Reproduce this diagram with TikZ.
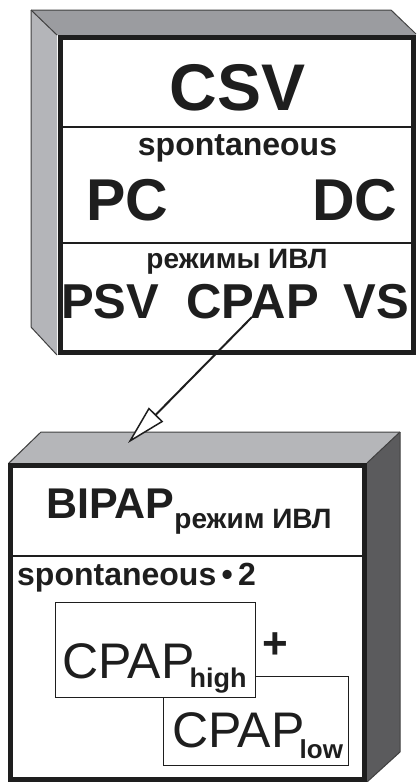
\documentclass[tikz,border=0pt]{standalone}
\usepackage{fontspec}
\setmainfont{Liberation Sans}
\usetikzlibrary{arrows.meta}
\definecolor{lightside}{RGB}{180,181,185}
\definecolor{midtop}{RGB}{155,156,160}
\definecolor{paletop}{RGB}{181,182,185}
\definecolor{darkside}{RGB}{91,91,93}
\definecolor{ink}{RGB}{30,30,30}
\newcommand{\fsz}[1]{\fontsize{#1}{#1}\selectfont}
\begin{document}
\begin{tikzpicture}[x=1pt,y=-1pt,
  face/.style={draw=ink!85, line width=1pt, line join=miter},
  front/.style={draw=ink, line width=5pt, fill=white, rectangle, inner sep=0pt, outer sep=0pt},
  thinbox/.style={draw=ink, line width=1pt, fill=white, rectangle, inner sep=0pt},
  divider/.style={draw=ink, line width=2pt},
  txt/.style={inner sep=0pt, text=ink}]

\useasboundingbox (0,0) rectangle (416,782);

% ---------- upper box (CSV) ----------
\fill[lightside] (31,10) -- (57,35) -- (57,355) -- (31,327) -- cycle;
\draw[face] (57,355) -- (31,327) -- (31,10);
\fill[midtop] (31,10) -- (391,10) -- (416,35) -- (57,35) -- cycle;
\draw[face] (31,10) -- (391,10) -- (416,34);
\draw[face] (31,10) -- (57,35);
\node[front, minimum width=353.5pt, minimum height=315pt] (csvbox) at (236.75,195) {};
\draw[divider] (60,127) -- (413.5,127);
\draw[divider] (60,243) -- (413.5,243);

\node[txt, anchor=base, font=\fsz{66}\bfseries] (csv) at (237.5,110) {CSV};
\node[txt, anchor=base, font=\fsz{32}\bfseries] (spon1) at (237.5,155) {spontaneous};
\node[txt, anchor=base west, font=\fsz{59}\bfseries] (pc) at (86,220) {PC};
\node[txt, anchor=base east, font=\fsz{59}\bfseries] (dc) at (397.5,220) {DC};
\node[txt, anchor=base, font=\fsz{28}\bfseries] (rezhimy) at (237,268) {режимы ИВЛ};
\node[txt, anchor=base west, font=\fsz{49}\bfseries] (psv) at (61,318) {PSV};
\node[txt, anchor=base west, font=\fsz{49}\bfseries] (cpapm) at (186,318) {CPAP};
\node[txt, anchor=base east, font=\fsz{49}\bfseries] (vs) at (409,318) {VS};

% ---------- lower box (BIPAP) ----------
\fill[paletop] (8,463) -- (41,432) -- (400,432) -- (367,463) -- cycle;
\draw[face] (9,463) -- (41,432) -- (400,432);
\fill[darkside] (367,463) -- (400,432) -- (400,752) -- (367,782) -- cycle;
\draw[face] (400,432) -- (400,752) -- (367,782);
\draw[face] (367,463) -- (400,432);
\node[front, minimum width=354pt, minimum height=314pt] (bipapbox) at (187.5,622.5) {};
\draw[divider] (10.5,556) -- (364.5,556);

\node[txt, anchor=base west, font=\fsz{43}\bfseries] (bipap) at (46,518)
  {BIPAP\raisebox{-10pt}{\fsz{28}\bfseries режим ИВЛ}};
\node[txt, anchor=base west, font=\fsz{32}\bfseries] (spon2) at (17,585) {spontaneous\,•\,2};

\node[thinbox, minimum width=185pt, minimum height=89pt] (lowbox) at (255.5,720.5) {};
\node[thinbox, minimum width=200pt, minimum height=95pt] (highbox) at (155,649.5) {};

\node[txt, anchor=base west, font=\fsz{50}] (cpaph) at (62,678)
  {CPAP\kern-5pt\raisebox{-9pt}{\fsz{27}\bfseries high}};
\node[txt, anchor=center, font=\fsz{44}\bfseries] (plus) at (275,646) {+};
\node[txt, anchor=base west, font=\fsz{50}] (cpapl) at (172,747)
  {CPAP\kern-5pt\raisebox{-11pt}{\fsz{26}\bfseries low}};

% ---------- connector ----------
\coordinate (src) at (252,317);
\coordinate (dst) at (128,443);
\draw[ink, line width=2pt, -{Triangle[open, fill=white, length=40pt, width=20pt, line width=1.5pt]}] (src) -- (dst);

\end{tikzpicture}
\end{document}
